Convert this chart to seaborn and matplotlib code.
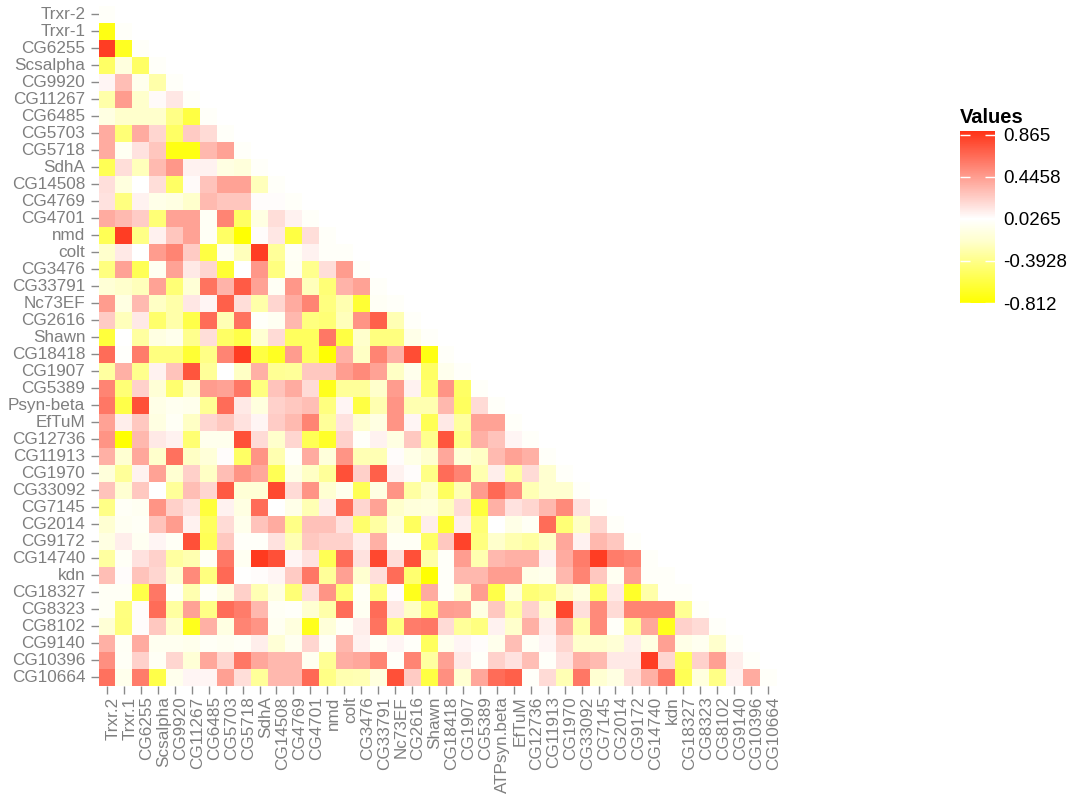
import numpy as np
import seaborn as sns
import matplotlib
matplotlib.use('Agg')
import matplotlib.pyplot as plt
from matplotlib.colors import LinearSegmentedColormap
from matplotlib.transforms import ScaledTranslation

sns.set_style('white')
plt.rcParams['font.family'] = ['Liberation Sans', 'DejaVu Sans']

y_names = ['Trxr-2', 'Trxr-1', 'CG6255', 'Scsalpha', 'CG9920', 'CG11267', 'CG6485', 'CG5703', 'CG5718', 'SdhA',
           'CG14508', 'CG4769', 'CG4701', 'nmd', 'colt', 'CG3476', 'CG33791', 'Nc73EF', 'CG2616', 'Shawn',
           'CG18418', 'CG1907', 'CG5389', 'Psyn-beta', 'EfTuM', 'CG12736', 'CG11913', 'CG1970', 'CG33092', 'CG7145',
           'CG2014', 'CG9172', 'CG14740', 'kdn', 'CG18327', 'CG8323', 'CG8102', 'CG9140', 'CG10396', 'CG10664']
x_names = ['Trxr.2', 'Trxr.1', 'CG6255', 'Scsalpha', 'CG9920', 'CG11267', 'CG6485', 'CG5703', 'CG5718', 'SdhA',
           'CG14508', 'CG4769', 'CG4701', 'nmd', 'colt', 'CG3476', 'CG33791', 'Nc73EF', 'CG2616', 'Shawn',
           'CG18418', 'CG1907', 'CG5389', 'ATPsyn.beta', 'EfTuM', 'CG12736', 'CG11913', 'CG1970', 'CG33092', 'CG7145',
           'CG2014', 'CG9172', 'CG14740', 'kdn', 'CG18327', 'CG8323', 'CG8102', 'CG9140', 'CG10396', 'CG10664']

# lower triangle, one list per row, diagonal left out
r00 = []
r01 = [-.75]
r02 = [.85, -.7]
r03 = [-.5, -.12, -.5]
r04 = [.07, .3, -.05, -.3]
r05 = [-.3, .45, -.2, .05, .13]
r06 = [-.1, -.2, -.2, -.2, -.4, -.6]
r07 = [.38, -.45, .38, .2, -.5, .25, .18]
r08 = [.38, -.03, .15, .27, -.75, -.75, .33, .42]
r09 = [-.55, .17, -.25, .32, .47, .08, .08, -.1, -.13]
r10 = [.16, -.12, .03, .17, -.5, .05, .28, .42, .42, -.25]
r11 = [.15, -.42, .08, -.07, -.1, -.2, .32, .27, .27, .04, .04]
r12 = [.38, .32, .24, -.45, .42, .42, -.02, .55, -.5, -.1, .17, .08]
r13 = [-.55, .85, -.4, .09, .27, .42, -.02, -.5, -.8, .04, .13, -.6, .17]
r14 = [-.2, .12, .03, .45, .55, .25, -.6, -.03, -.25, .85, -.35, -.02, .08, 0]
r15 = [-.42, .42, -.55, -.03, .42, .12, .2, -.65, .03, .47, -.42, -.03, -.38, .17, .45]
r16 = [-.15, -.2, -.25, .42, -.45, -.15, .62, .35, .72, .42, -.02, .47, -.25, -.45, .35, .42]
r17 = [.45, -.1, .32, -.22, -.3, .13, .07, .7, .17, -.3, .2, .38, .55, -.42, -.28, -.65, -.02]
r18 = [.25, -.25, .12, -.48, -.3, -.58, .65, -.27, .62, 0, -.03, .33, -.42, -.45, -.25, .48, .7, -.27]
r19 = [-.62, .03, -.33, -.1, -.06, -.38, .17, -.5, -.58, -.17, .18, -.52, -.52, .6, -.6, -.2, -.42, -.42, -.07]
r20 = [.65, .01, .58, -.42, -.42, -.65, -.4, .55, .85, -.6, -.7, .45, -.52, -.8, .36, -.22, .55, .36, .78, -.75]
r21 = [-.33, .36, -.38, .08, .28, .75, -.35, .03, -.22, .36, -.36, -.35, .26, .26, .44, .52, .42, -.22, -.06, -.5,
       -.05]
r22 = [.55, -.45, .22, -.15, -.47, -.22, .45, .42, .6, -.42, .28, .38, .18, -.72, -.35, -.35, -.2, .45, .08, -.47,
       .48, -.5]
r23 = [.6, -.58, .77, -.08, -.04, -.06, -.36, .65, .12, -.12, .22, .26, .3, -.42, .07, -.6, -.28, .48, -.28, -.28,
       .33, -.52, .18]
r24 = [.42, .1, .26, -.1, -.02, -.22, .2, .26, .15, .07, .24, .32, .55, -.35, .15, -.18, -.1, .48, .07, -.55,
       .12, -.33, .42, .42]
r25 = [.48, -.8, .33, .12, .08, -.46, -.05, -.05, .77, .18, -.2, .2, -.55, -.68, .22, 0, .08, -.1, .26, -.38,
       .75, -.4, .36, .28, .07]
r26 = [.36, -.17, .4, -.2, .63, -.22, -.14, .04, -.5, .48, -.28, 0, .38, -.13, .48, -.27, -.27, .04, -.08, -.18,
       .4, -.15, -.22, .32, .42, .36]
r27 = [-.13, -.35, .08, .42, -.17, .23, -.22, .3, .48, .4, -.55, -.08, -.22, -.35, .77, .23, .7, .08, .04, -.4,
       .65, .55, -.28, .1, -.32, .18, -.18]
r28 = [.28, -.17, .26, .03, -.35, .3, .2, .73, -.15, -.15, .8, .18, .48, -.17, -.05, -.55, -.1, .48, -.32, -.2,
       -.52, -.27, .45, .66, .5, -.27, -.18, -.18]
r29 = [-.4, -.01, -.03, .48, .23, .15, -.62, .08, -.1, .65, .03, -.07, -.27, .1, .65, .2, .42, -.2, -.13, -.12,
       -.25, .18, -.62, .36, .15, .2, .33, .52, .15]
r30 = [-.17, -.03, -.01, .28, .45, .08, -.52, .18, -.06, .28, .38, -.4, .29, .29, .15, -.48, -.32, -.12, -.52, .1,
       -.65, .1, -.45, .03, -.08, -.02, .65, -.45, -.22, .2]
r31 = [-.1, .1, -.03, .07, -.02, .77, -.55, .26, 0, 0, .15, -.27, .26, .22, .22, .1, .36, -.02, -.02, -.5,
       .26, .82, -.42, -.2, -.28, -.33, -.22, .4, .08, .33, .26]
r32 = [-.33, -.01, .15, .22, -.33, -.28, -.01, .6, -.03, .86, .77, .07, .15, -.55, .65, .15, .8, .17, .77, -.3,
       0, .44, -.28, .33, .36, .36, .08, .38, .58, .85, .58, .55]
r33 = [.3, .04, .28, .2, -.17, .52, -.42, .66, .02, .04, .07, .25, .6, -.35, .43, -.18, .16, .65, -.47, -.8,
       0, .33, .33, .44, .44, -.08, -.06, .33, .55, .26, -.03, .44, 0]
r34 = [-.02, -.02, -.58, .6, 0, -.28, 0, -.1, .23, -.27, -.1, -.45, .16, .48, -.45, -.02, -.42, .04, -.72, .38,
       0, -.17, .44, -.58, -.12, -.45, -.4, -.22, -.12, -.5, .12, -.68, -.3, 0]
r35 = [-.02, -.42, .04, .65, -.33, .42, -.4, .65, .58, .33, -.02, 0, -.17, -.3, .65, -.03, .65, .12, -.22, -.5,
       .44, .43, -.1, .26, -.33, .22, -.2, .8, .16, .52, .18, .55, .55, .55, -.36]
r36 = [-.15, -.43, .04, .26, -.2, -.72, .36, -.1, .55, .48, -.03, -.12, -.72, -.14, -.01, .1, .62, -.42, .58, .6,
       .18, -.35, -.42, .08, -.2, .36, .1, .38, -.3, .52, 0, -.36, .4, -.72, .22, .18]
r37 = [.36, -.02, .38, -.04, -.04, -.06, -.01, -.03, -.01, .1, -.15, -.04, .2, -.02, .33, .08, -.01, .07, 0, -.52,
       -.05, .07, .04, -.06, .3, -.02, .07, .2, -.2, -.2, -.15, .1, -.1, .43, -.08, -.04, -.2]
r38 = [.5, -.01, .22, -.02, .2, -.15, .4, .2, .6, .4, .33, .33, -.04, -.36, .37, .4, .55, 0, .55, -.33,
       .43, .12, 0, .22, .15, .3, 0, .15, .36, .32, .12, .12, .85, .2, -.52, .22, .43, .1]
r39 = [.63, -.06, .58, -.58, -.05, .07, .07, .43, .17, -.35, .33, .33, .66, -.4, -.28, -.27, -.12, .77, .25, -.6,
       .5, -.17, .4, .65, .7, 0, .18, -.27, .6, -.17, -.1, .17, .36, .6, -.55, -.12, -.4, .08, .38]
rows = [r00, r01, r02, r03, r04, r05, r06, r07, r08, r09, r10, r11, r12, r13, r14, r15, r16, r17, r18, r19,
        r20, r21, r22, r23, r24, r25, r26, r27, r28, r29, r30, r31, r32, r33, r34, r35, r36, r37, r38, r39]

v_min = -0.812
v_max = 0.9
legend_ticks = [0.865, 0.4458, 0.0265, -0.3928, -0.812]
legend_labels = ['0.865', '0.4458', '0.0265', '-0.3928', '-0.812']
# colour stops of the scale
stop_values = [-0.812, -0.6, -0.42, -0.2, 0.0265, 0.9]
stop_colors = ['#ffff00', '#ffff44', '#ffff80', '#ffffcc', '#ffffff', '#ff3216']

n = len(rows)
mat = np.zeros((n, n))
for i, r in enumerate(rows):
    mat[i, :len(r)] = r
mask = np.triu(np.ones((n, n), dtype=bool), k=1)

stops = [(v - v_min) / (v_max - v_min) for v in stop_values]
cmap = LinearSegmentedColormap.from_list('yr', list(zip(stops, stop_colors)))

W, H = 1073, 800
fig = plt.figure(figsize=(W / 100, H / 100), dpi=100)
ax = fig.add_axes([98.5 / W, 1 - 685.8 / H, 678 / W, 680 / H])
cax = fig.add_axes([960 / W, 1 - 303 / H, 35 / W, 172 / H])

sns.heatmap(mat, mask=mask, cmap=cmap, vmin=v_min, vmax=v_max, ax=ax, cbar_ax=cax,
            xticklabels=x_names, yticklabels=y_names, linewidths=0,
            cbar_kws={'ticks': legend_ticks})

ax.tick_params(axis='both', length=5.5, width=1, color='#8a8a8a', labelcolor='#7f7f7f', labelsize=12.3,
               bottom=True, left=True)
ax.tick_params(axis='x', pad=2.2)
ax.tick_params(axis='y', pad=4)
plt.setp(ax.get_xticklabels(), rotation=90, ha='center', va='top')
plt.setp(ax.get_yticklabels(), rotation=0, ha='right', va='center')
# x labels sit a little to the right of their ticks
shift = ScaledTranslation(6 / 100, 0, fig.dpi_scale_trans)
for t in ax.get_xticklabels():
    t.set_transform(t.get_transform() + shift)

cax.set_axisbelow(False)
cax.set_yticklabels(legend_labels)
cax.tick_params(axis='y', direction='in', length=7, width=1, color='white', labelcolor='black', labelsize=13.5,
                pad=6, left=True, right=True)
for s in cax.spines.values():
    s.set_visible(False)
fig.text(960 / W, 1 - 117.5 / H, 'Values', fontsize=14.5, fontweight='bold', color='black', ha='left', va='center')

fig.savefig('out.png', dpi=100)
